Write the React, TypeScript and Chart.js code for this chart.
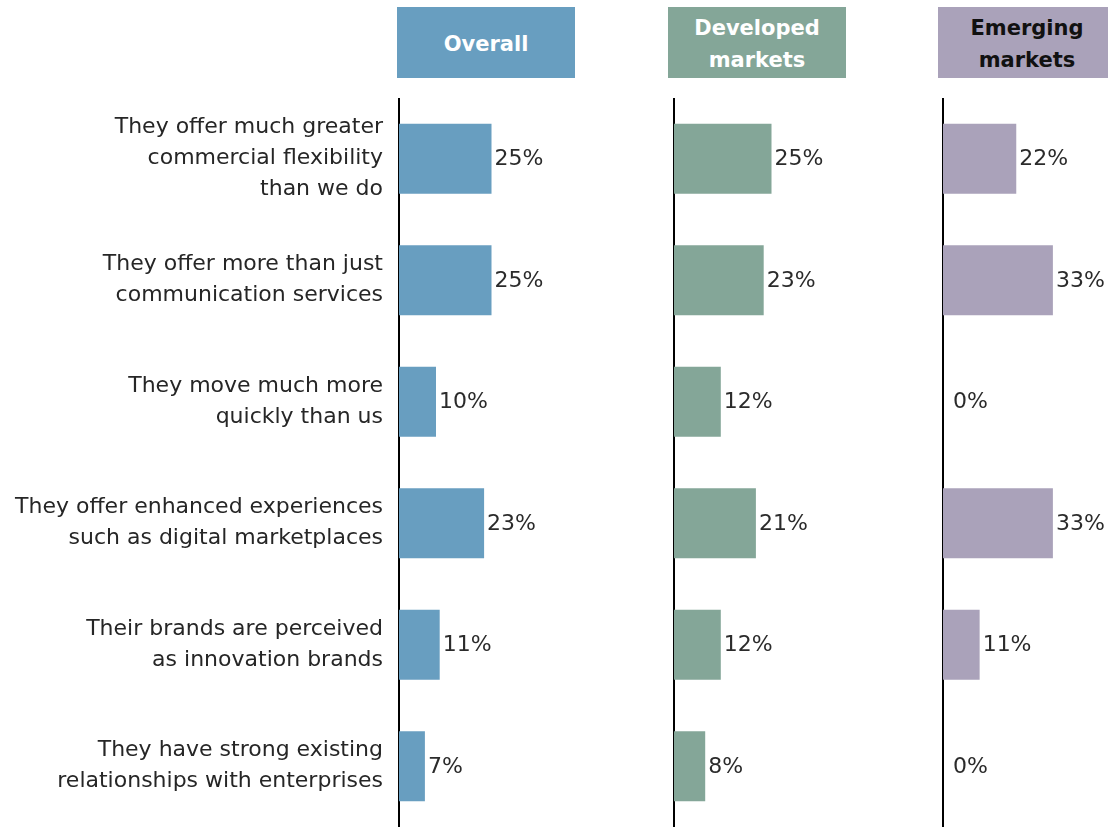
import React, { useEffect, useRef } from "react";
import { Chart, registerables } from "chart.js";

Chart.register(...registerables);

const categories: string[][] = [
  ["They offer much greater", "commercial flexibility", "than we do"],
  ["They offer more than just", "communication services"],
  ["They move much more", "quickly than us"],
  ["They offer enhanced experiences", "such as digital marketplaces"],
  ["Their brands are perceived", "as innovation brands"],
  ["They have strong existing", "relationships with enterprises"],
];
const overallValues = [25, 25, 10, 23, 11, 7];
const developedValues = [25, 23, 12, 21, 12, 8];
const emergingValues = [22, 33, 0, 33, 11, 0];
const panelTitles = [["Overall"], ["Developed", "markets"], ["Emerging", "markets"]];

const FONT = "'DejaVu Sans', 'Liberation Sans', sans-serif";

const valueLabelPlugin = {
  id: "valueLabels",
  afterDatasetsDraw(chart: any) {
    const ctx = chart.ctx;
    const meta = chart.getDatasetMeta(0);
    const ds = chart.data.datasets[0];
    ctx.save();
    ctx.font = `22px ${FONT}`;
    ctx.fillStyle = "#2b2b2b";
    ctx.textAlign = "left";
    ctx.textBaseline = "middle";
    meta.data.forEach((bar: any, i: number) => {
      const base = chart.chartArea.left;
      const x = Math.max(bar.x + 3, base + 10);
      ctx.fillText(ds.data[i] + "%", x, bar.y + 1);
    });
    ctx.restore();
  },
};

type PanelProps = {
  values: number[];
  color: string;
  axisX: number;
  pxPer: number;
  left: number;
  width: number;
  showLabels: boolean;
};

function Panel({ values, color, axisX, pxPer, left, width, showLabels }: PanelProps) {
  const ref = useRef<HTMLCanvasElement>(null);
  useEffect(() => {
    const axisWidth = axisX - left;
    const max = (width - axisWidth) / pxPer;
    const chart = new Chart(ref.current!, {
      type: "bar",
      data: {
        labels: categories,
        datasets: [
          {
            data: values,
            backgroundColor: color,
            borderWidth: 0,
            categoryPercentage: 1,
            barPercentage: 0.576,
          },
        ],
      },
      options: {
        indexAxis: "y",
        animation: false,
        responsive: true,
        maintainAspectRatio: false,
        layout: { padding: 0, autoPadding: false },
        plugins: { legend: { display: false }, tooltip: { enabled: false } },
        scales: {
          x: { display: false, min: 0, max },
          y: {
            afterFit: (s: any) => {
              s.width = axisWidth;
              s.paddingTop = 0;
              s.paddingBottom = 0;
            },
            grid: { display: false, drawTicks: false },
            border: { display: true, color: "#000", width: 2 },
            ticks: {
              display: showLabels,
              padding: 16,
              color: "#262626",
              font: { family: FONT, size: 22, lineHeight: "31px" as any },
            },
          },
        },
      },
      plugins: [valueLabelPlugin],
    });
    return () => chart.destroy();
  }, []);
  return (
    <div style={{ position: "absolute", left, top: 98, width, height: 729 }}>
      <canvas ref={ref} />
    </div>
  );
}

function Header({ left, width, bg, color, lines }: { left: number; width: number; bg: string; color: string; lines: string[] }) {
  return (
    <div
      style={{
        position: "absolute",
        left,
        top: 7,
        width,
        height: 71,
        background: bg,
        color,
        fontFamily: FONT,
        fontWeight: "bold",
        fontSize: 21,
        lineHeight: "32px",
        display: "flex",
        flexDirection: "column",
        alignItems: "center",
        justifyContent: "center",
        paddingTop: 3,
        boxSizing: "border-box",
        textAlign: "center",
      }}
    >
      {lines.map((l, i) => (
        <div key={i}>{l}</div>
      ))}
    </div>
  );
}

export default function App() {
  useEffect(() => {
    document.body.style.margin = "0";
  }, []);
  return (
    <div style={{ position: "relative", width: 1108, height: 827, overflow: "hidden", background: "#fff" }}>
      <Header left={397} width={178} bg="#689ec0" color="#fff" lines={panelTitles[0]} />
      <Header left={668} width={178} bg="#84a698" color="#fff" lines={panelTitles[1]} />
      <Header left={938} width={178} bg="#aaa2ba" color="#111" lines={panelTitles[2]} />
      <Panel values={overallValues} color="#689ec0" axisX={399} pxPer={3.7} left={0} width={640} showLabels={true} />
      <Panel values={developedValues} color="#84a698" axisX={674} pxPer={3.9} left={664} width={240} showLabels={false} />
      <Panel values={emergingValues} color="#aaa2ba" axisX={943} pxPer={3.33} left={933} width={175} showLabels={false} />
    </div>
  );
}
